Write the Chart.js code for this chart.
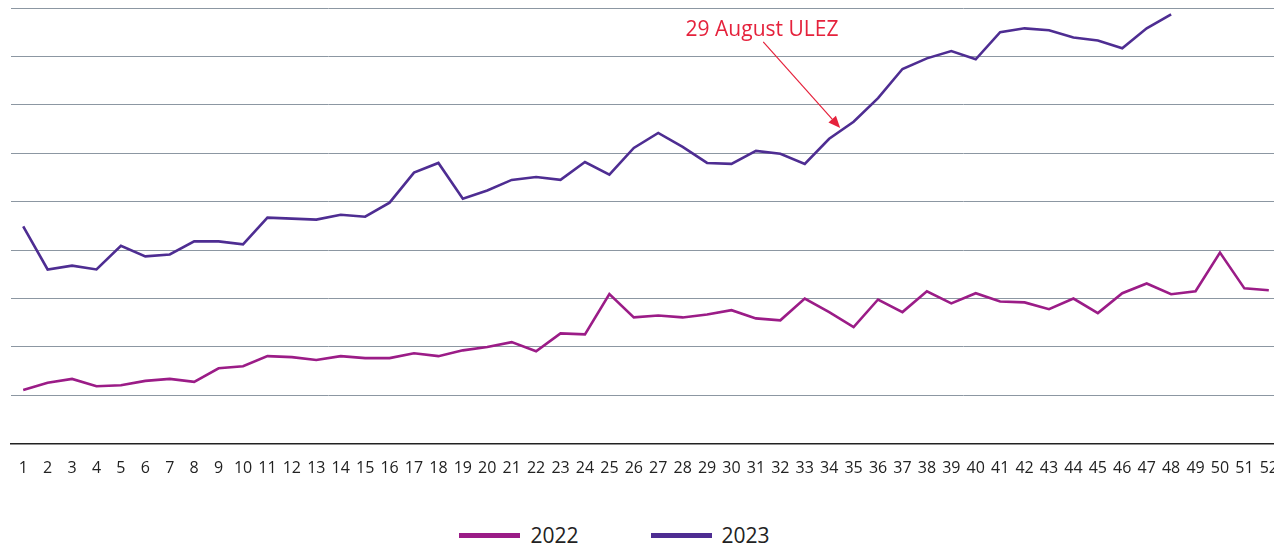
<!DOCTYPE html>
<html>
<head>
<meta charset="utf-8">
<script src="https://cdn.jsdelivr.net/npm/chart.js@4"></script>
<style>
  html, body { margin: 0; padding: 0; background: #fff; overflow: hidden; }
  .wrap { position: relative; width: 1293px; height: 496px; }
  .legend { position: absolute; top: 520px; left: 0; width: 1229px; display: flex; justify-content: center;
            font-family: "Open Sans", sans-serif; font-size: 21px; color: #222; line-height: 30px; }
  .legend__item { display: flex; align-items: center; margin: 0 36px; }
  .legend__line { display: inline-block; width: 61px; height: 5px; margin-right: 10px; }
</style>
</head>
<body>
<div class="wrap"><canvas id="myChart"></canvas></div>
<div class="legend" id="legend"></div>
<script>
// semanas 1..52
const weeks = [];
for (let i = 1; i <= 52; i++) weeks.push(String(i));

const values2022 = [11.1, 12.6, 13.4, 11.9, 12.1, 13.0, 13.4, 12.8, 15.6, 16.0,
  18.1, 17.9, 17.3, 18.1, 17.7, 17.7, 18.7, 18.1, 19.3, 20.0,
  21.0, 19.1, 22.8, 22.6, 30.9, 26.1, 26.5, 26.1, 26.7, 27.6,
  25.9, 25.5, 30.0, 27.2, 24.1, 29.8, 27.2, 31.5, 29.0, 31.1,
  29.4, 29.2, 27.8, 30.0, 27.0, 31.1, 33.1, 30.9, 31.5, 39.5,
  32.1, 31.7];

const values2023 = [44.9, 36.0, 36.8, 36.0, 40.9, 38.7, 39.1, 41.8, 41.8, 41.2,
  46.7, 46.5, 46.3, 47.3, 46.9, 49.8, 56.0, 58.0, 50.6, 52.3,
  54.5, 55.1, 54.5, 58.2, 55.6, 61.1, 64.2, 61.3, 58.0, 57.8,
  60.5, 59.9, 57.8, 63.0, 66.5, 71.4, 77.4, 79.6, 81.1, 79.4,
  85.0, 85.8, 85.4, 83.9, 83.3, 81.7, 85.8, 88.7];

const seriesLabels = ["2022", "2023"];
const seriesColors = ["#9B1C87", "#4E2D92"];

// anotação ULEZ
const ulezText = "29 August ULEZ";
const ulezTextAt = [30.25, 85.4];
const ulezArrowFrom = [30.3, 83.0];
const ulezArrowTo = [33.45, 65.2];

const ulezPlugin = {
  id: "ulez",
  afterDatasetsDraw(chart) {
    const { ctx, scales: { x, y } } = chart;
    const red = "#E5223C";
    ctx.save();
    ctx.fillStyle = red;
    ctx.strokeStyle = red;
    ctx.font = '21px "Open Sans", sans-serif';
    ctx.textAlign = "center";
    ctx.textBaseline = "middle";
    ctx.fillText(ulezText, x.getPixelForValue(ulezTextAt[0]), y.getPixelForValue(ulezTextAt[1]));

    const x1 = x.getPixelForValue(ulezArrowFrom[0]);
    const y1 = y.getPixelForValue(ulezArrowFrom[1]);
    const x2 = x.getPixelForValue(ulezArrowTo[0]);
    const y2 = y.getPixelForValue(ulezArrowTo[1]);
    const ang = Math.atan2(y2 - y1, x2 - x1);
    const head = 12;
    ctx.lineWidth = 1.2;
    ctx.beginPath();
    ctx.moveTo(x1, y1);
    ctx.lineTo(x2 - head * Math.cos(ang), y2 - head * Math.sin(ang));
    ctx.stroke();
    ctx.beginPath();
    ctx.moveTo(x2, y2);
    ctx.lineTo(x2 - head * Math.cos(ang) + 5 * Math.sin(ang), y2 - head * Math.sin(ang) - 5 * Math.cos(ang));
    ctx.lineTo(x2 - head * Math.cos(ang) - 5 * Math.sin(ang), y2 - head * Math.sin(ang) + 5 * Math.cos(ang));
    ctx.closePath();
    ctx.fill();
    ctx.restore();
  },
};

const data = {
  labels: weeks,
  datasets: [
    {
      label: seriesLabels[0],
      data: values2022,
      borderColor: seriesColors[0],
      backgroundColor: seriesColors[0],
      borderWidth: 2.6,
      pointRadius: 0,
      tension: 0,
    },
    {
      label: seriesLabels[1],
      data: values2023,
      borderColor: seriesColors[1],
      backgroundColor: seriesColors[1],
      borderWidth: 2.6,
      pointRadius: 0,
      tension: 0,
    },
  ],
};

const ctx = document.getElementById("myChart");
const myChart = new Chart(ctx, {
  type: "line",
  data: data,
  plugins: [ulezPlugin],
  options: {
    responsive: true,
    maintainAspectRatio: false,
    animation: false,
    layout: { padding: { left: 11, right: 4, top: 8, bottom: 3 } },
    plugins: {
      legend: { display: false },
      tooltip: { enabled: false },
    },
    scales: {
      x: {
        offset: true,
        grid: { display: false, drawTicks: false },
        border: { display: true, color: "#222", width: 1.5 },
        ticks: {
          color: "#222",
          padding: 15,
          maxRotation: 0,
          autoSkip: false,
          font: { family: "'Open Sans', sans-serif", size: 16 },
        },
      },
      y: {
        min: 0,
        max: 90,
        ticks: { display: false, stepSize: 10 },
        grid: { color: "#8C97A2", lineWidth: 1, drawTicks: false },
        border: { display: false },
      },
    },
  },
});

// LEGENDA EM HTML
const legendBox = document.getElementById("legend");
seriesLabels.forEach((lab, i) => {
  const item = document.createElement("span");
  item.className = "legend__item";
  item.innerHTML = `<span class="legend__line" style="background:${seriesColors[i]}"></span>${lab}`;
  legendBox.appendChild(item);
});
</script>
</body>
</html>
